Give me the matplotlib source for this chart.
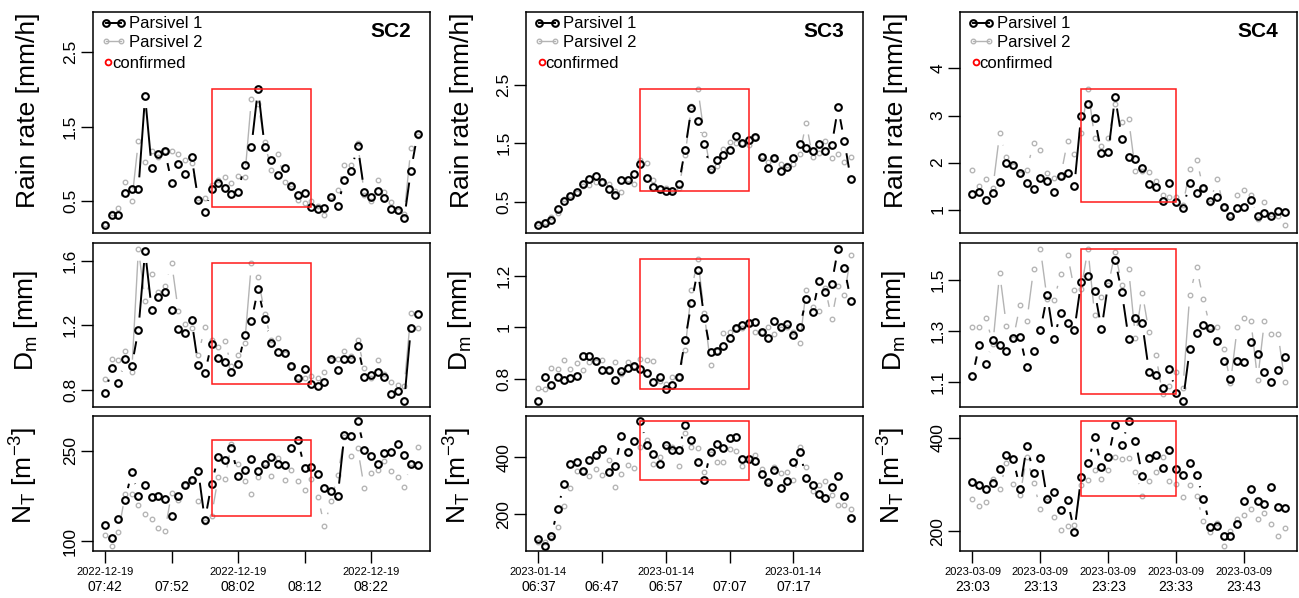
import numpy as np
import matplotlib
matplotlib.use("Agg")
import matplotlib.pyplot as plt
from matplotlib.collections import LineCollection
from matplotlib.patches import Rectangle
from matplotlib.lines import Line2D

plt.rcParams['font.family'] = ['Liberation Sans', 'DejaVu Sans']
plt.rcParams['mathtext.fontset'] = 'custom'
plt.rcParams['mathtext.rm'] = 'Liberation Sans'
plt.rcParams['mathtext.it'] = 'Liberation Sans:italic'
plt.rcParams['mathtext.bf'] = 'Liberation Sans:bold'

# ---- SC2, 2022-12-19 07:42 .. 08:29 (1 min) ----
sc2_rr_p1 = [0.18, 0.32, 0.32, 0.61, 0.67, 0.66, 1.91, 0.95, 1.14, 1.17, 0.75, 1.00, 0.87, 1.10, 0.52, 0.35,
             0.67, 0.75, 0.68, 0.60, 0.63, 0.99, 1.23, 2.01, 1.23, 1.05, 0.85, 0.95, 0.71, 0.58, 0.61, 0.42,
             0.39, 0.41, 0.56, 0.44, 0.79, 0.91, 1.24, 0.63, 0.56, 0.64, 0.55, 0.39, 0.38, 0.27, 0.91, 1.40]
sc2_rr_p2 = [0.20, 0.34, 0.41, 0.76, 0.50, 1.31, 1.03, 1.18, 1.09, 1.18, 1.17, 1.13, 1.05, 1.01, 0.54, 0.54,
             0.72, 0.78, 0.83, 0.74, 0.84, 0.82, 1.87, 1.81, 1.29, 0.92, 1.14, 0.76, 0.73, 0.52, 0.47, 0.51,
             0.43, 0.32, 0.57, 0.65, 0.99, 0.99, 1.28, 0.59, 0.50, 0.79, 0.63, 0.49, 0.37, 0.33, 1.21, 1.38]
sc2_dm_p1 = [0.778, 0.935, 0.843, 0.988, 0.947, 1.173, 1.659, 1.296, 1.373, 1.404, 1.292, 1.176, 1.151, 1.231,
             0.953, 0.902, 1.086, 0.996, 0.969, 0.912, 0.959, 1.139, 1.224, 1.424, 1.237, 1.092, 1.033, 1.027,
             0.945, 0.873, 0.929, 0.833, 0.824, 0.849, 0.988, 0.924, 0.988, 0.988, 1.073, 0.882, 0.890, 0.910,
             0.878, 0.771, 0.790, 0.731, 1.180, 1.269]
sc2_dm_p2 = [0.867, 0.990, 0.986, 1.037, 0.912, 1.673, 1.349, 1.514, 1.408, 1.441, 1.586, 1.288, 1.208, 1.180,
             1.018, 1.186, 1.106, 1.063, 1.102, 0.945, 1.018, 1.090, 1.582, 1.498, 1.271, 1.106, 1.120, 1.020,
             0.949, 0.878, 0.873, 0.886, 0.873, 0.910, 0.982, 0.988, 1.037, 1.008, 1.106, 0.933, 0.871, 0.982,
             0.898, 0.849, 0.829, 0.822, 1.273, 1.184]
sc2_nt_p1 = [128, 106, 137, 169, 215, 176, 193, 173, 176, 171, 142, 176, 193, 201, 217, 135, 195, 240, 235, 254,
             209, 219, 236, 217, 229, 240, 228, 226, 254, 268, 221, 224, 211, 189, 184, 176, 277, 274, 300, 252,
             241, 228, 247, 248, 262, 243, 229, 227]
sc2_nt_p2 = [111, 93, 115, 178, 178, 160, 145, 138, 122, 118, 181, 168, 193, 202, 167, 133, 142, 206, 203, 262,
             228, 200, 179, 207, 230, 209, 238, 202, 219, 200, 185, 203, 174, 126, 167, 210, 273, 242, 254, 188,
             214, 219, 234, 216, 207, 191, 230, 257]
sc2_dates = ["2022-12-19", "", "2022-12-19", "", "2022-12-19"]
sc2_times = ["07:42", "07:52", "08:02", "08:12", "08:22"]
sc2_confirmed = (16, 31)   # 07:58 .. 08:13

# ---- SC3, 2023-01-14 06:37 .. 07:26 ----
sc3_rr_p1 = [0.10, 0.14, 0.19, 0.37, 0.51, 0.59, 0.66, 0.81, 0.88, 0.94, 0.84, 0.71, 0.62, 0.87, 0.87, 0.97, 1.14,
             0.90, 0.75, 0.72, 0.68, 0.69, 0.80, 1.39, 2.10, 1.88, 1.48, 1.05, 1.22, 1.29, 1.38, 1.62, 1.50, 1.56,
             1.60, 1.26, 1.07, 1.25, 1.02, 1.10, 1.25, 1.49, 1.42, 1.37, 1.48, 1.37, 1.46, 2.11, 1.53, 0.88]
sc3_rr_p2 = [0.14, 0.16, 0.24, 0.31, 0.54, 0.61, 0.64, 0.77, 0.78, 0.83, 0.83, 0.81, 0.69, 0.67, 0.88, 0.81, 1.21,
             1.16, 0.87, 0.74, 0.74, 0.70, 0.74, 1.29, 2.14, 2.43, 1.65, 1.03, 1.11, 1.40, 1.52, 1.50, 1.50, 1.46,
             1.60, 1.28, 1.18, 1.25, 1.15, 1.13, 1.15, 1.32, 1.85, 1.26, 1.34, 1.54, 1.25, 1.31, 1.18, 1.27]
sc3_dm_p1 = [0.714, 0.805, 0.774, 0.808, 0.797, 0.801, 0.809, 0.890, 0.888, 0.868, 0.833, 0.835, 0.797, 0.829,
             0.842, 0.850, 0.837, 0.824, 0.787, 0.808, 0.762, 0.776, 0.808, 0.949, 1.095, 1.222, 1.036, 0.905,
             0.909, 0.926, 0.958, 0.996, 1.008, 1.015, 1.021, 0.981, 0.959, 1.023, 1.001, 1.012, 0.969, 0.999,
             1.110, 1.059, 1.178, 1.138, 1.169, 1.304, 1.229, 1.103]
sc3_dm_p2 = [0.765, 0.759, 0.841, 0.837, 0.872, 0.838, 0.862, 0.832, 0.863, 0.863, 0.873, 0.832, 0.865, 0.817,
             0.865, 0.850, 0.876, 0.873, 0.867, 0.791, 0.781, 0.805, 0.808, 0.912, 1.145, 1.263, 1.056, 0.854,
             0.908, 0.979, 0.981, 0.996, 0.997, 1.015, 0.983, 0.983, 0.999, 0.972, 0.992, 0.999, 0.981, 0.937,
             1.146, 1.078, 1.064, 1.150, 1.033, 1.160, 1.126, 1.278]
sc3_nt_p1 = [113, 89, 122, 217, 305, 375, 385, 351, 389, 407, 428, 349, 368, 474, 420, 458, 529, 445, 411, 377,
             445, 425, 425, 514, 460, 382, 322, 420, 448, 434, 469, 473, 394, 393, 387, 340, 314, 357, 292, 318,
             385, 418, 329, 301, 271, 257, 297, 333, 264, 188]
sc3_nt_p2 = [102, 101, 117, 155, 229, 293, 353, 351, 335, 359, 339, 389, 295, 340, 373, 362, 437, 460, 377, 401,
             437, 435, 371, 484, 437, 434, 349, 413, 382, 382, 428, 424, 369, 397, 408, 358, 315, 366, 346, 349,
             321, 438, 366, 282, 302, 317, 269, 232, 232, 218]
sc3_dates = ["2023-01-14", "", "2023-01-14", "", "2023-01-14"]
sc3_times = ["06:37", "06:47", "06:57", "07:07", "07:17"]
sc3_confirmed = (16, 33)   # 06:53 .. 07:10

# ---- SC4, 2023-03-09 23:03 .. 23:49 ----
sc4_rr_p1 = [1.34, 1.37, 1.20, 1.36, 1.59, 1.99, 1.95, 1.77, 1.56, 1.44, 1.68, 1.60, 1.37, 1.72, 1.77, 1.50, 3.00,
             3.25, 2.94, 2.20, 2.22, 3.40, 2.51, 2.11, 2.07, 1.89, 1.55, 1.47, 1.18, 1.56, 1.16, 1.03, 1.56, 1.36,
             1.46, 1.18, 1.27, 1.06, 0.86, 1.04, 1.06, 1.21, 0.86, 0.92, 0.87, 0.96, 0.94]
sc4_rr_p2 = [1.85, 1.51, 1.66, 1.46, 2.62, 2.12, 1.92, 1.75, 1.85, 2.41, 2.26, 1.78, 1.68, 1.72, 2.46, 2.19, 2.63,
             3.57, 2.52, 2.36, 2.53, 3.24, 2.86, 2.92, 1.81, 1.82, 1.79, 1.60, 1.30, 1.26, 1.27, 1.09, 1.86, 2.06,
             1.46, 1.13, 1.66, 1.06, 0.88, 1.30, 1.42, 1.30, 0.80, 1.16, 0.90, 0.87, 0.67]
sc4_dm_p1 = [1.121, 1.246, 1.172, 1.263, 1.245, 1.222, 1.273, 1.277, 1.157, 1.222, 1.303, 1.440, 1.270, 1.372,
             1.332, 1.303, 1.492, 1.516, 1.456, 1.307, 1.490, 1.579, 1.452, 1.270, 1.351, 1.330, 1.140, 1.126,
             1.075, 1.152, 1.056, 1.025, 1.229, 1.290, 1.325, 1.310, 1.261, 1.180, 1.113, 1.183, 1.179, 1.258,
             1.209, 1.139, 1.100, 1.145, 1.196]
sc4_dm_p2 = [1.317, 1.317, 1.351, 1.248, 1.528, 1.320, 1.268, 1.402, 1.338, 1.544, 1.623, 1.424, 1.421, 1.523,
             1.600, 1.462, 1.464, 1.623, 1.361, 1.435, 1.479, 1.610, 1.482, 1.543, 1.273, 1.451, 1.295, 1.207,
             1.051, 1.083, 1.139, 1.077, 1.443, 1.550, 1.425, 1.315, 1.315, 1.229, 1.096, 1.315, 1.352, 1.341,
             1.108, 1.340, 1.288, 1.288, 1.101]
sc4_nt_p1 = [306, 298, 290, 302, 333, 362, 354, 291, 382, 325, 356, 269, 283, 245, 266, 199, 315, 345, 401, 337,
             358, 426, 384, 436, 393, 318, 357, 362, 335, 374, 332, 321, 345, 321, 269, 210, 212, 189, 189, 216,
             265, 290, 265, 259, 294, 251, 249]
sc4_nt_p2 = [268, 254, 263, 311, 291, 345, 300, 278, 359, 303, 248, 273, 231, 202, 211, 214, 298, 310, 331, 311,
             331, 359, 354, 357, 327, 276, 308, 326, 358, 308, 300, 273, 298, 276, 221, 199, 217, 169, 200, 226,
             235, 248, 225, 239, 216, 189, 207]
sc4_dates = ["2023-03-09"] * 5
sc4_times = ["23:03", "23:13", "23:23", "23:33", "23:43"]
sc4_confirmed = (16, 30)   # 23:19 .. 23:33

labels = ["SC2", "SC3", "SC4"]
ylabels = ["Rain rate [mm/h]", r"D$_\mathrm{m}$ [mm]", r"N$_\mathrm{T}$ [m$^{-3}$]"]
yticks = [
    [([0.5, 1.5, 2.5], ["0.5", "1.5", "2.5"]), ([0.8, 1.2, 1.6], ["0.8", "1.2", "1.6"]), ([100, 250], ["100", "250"])],
    [([0.5, 1.5, 2.5], ["0.5", "1.5", "2.5"]), ([0.8, 1.0, 1.2], ["0.8", "1", "1.2"]), ([200, 400], ["200", "400"])],
    [([1, 2, 3, 4], ["1", "2", "3", "4"]), ([1.1, 1.3, 1.5], ["1.1", "1.3", "1.5"]), ([200, 400], ["200", "400"])],
]

data = [
    [(sc2_rr_p1, sc2_rr_p2), (sc2_dm_p1, sc2_dm_p2), (sc2_nt_p1, sc2_nt_p2)],
    [(sc3_rr_p1, sc3_rr_p2), (sc3_dm_p1, sc3_dm_p2), (sc3_nt_p1, sc3_nt_p2)],
    [(sc4_rr_p1, sc4_rr_p2), (sc4_dm_p1, sc4_dm_p2), (sc4_nt_p1, sc4_nt_p2)],
]
dates = [sc2_dates, sc3_dates, sc4_dates]
times = [sc2_times, sc3_times, sc4_times]
confirmed = [sc2_confirmed, sc3_confirmed, sc4_confirmed]

grey = '#b4b4b4'
GAP = 12.0  # px gap around points, like R type="b"

W, H = 1299, 598
fig = plt.figure(figsize=(W / 100, H / 100), dpi=100)
col_left = [92.7, 526.0, 960.0]
col_w = 337.3
rows_px = [(12.3, 233.3), (242.7, 407.0), (415.7, 550.7)]
ylab_y = [0.555, 0.53, 0.56]


def broken_line(ax, x, y, **kw):
    # segments shortened at both ends, dropped if too short
    pts = ax.transData.transform(np.column_stack([x, y]))
    inv = ax.transData.inverted()
    segs = []
    for p0, p1 in zip(pts[:-1], pts[1:]):
        d = p1 - p0
        L = np.hypot(d[0], d[1])
        if L > 2 * GAP:
            f = GAP / L
            segs.append(inv.transform(np.array([p0 + f * d, p1 - f * d])))
    ax.add_collection(LineCollection(segs, **kw))


for c in range(3):
    for r in range(3):
        top, bot = rows_px[r]
        ax = fig.add_axes([col_left[c] / W, 1 - bot / H, col_w / W, (bot - top) / H])
        p1 = np.array(data[c][r][0], dtype=float)
        p2 = np.array(data[c][r][1], dtype=float)
        n = len(p1)
        x = np.arange(n)

        lo = min(p1.min(), p2.min())
        hi = max(p1.max(), p2.max())
        if r == 0:
            hi = hi + 0.5 * (hi - lo)   # room for legend
        ax.set_ylim(lo - 0.04 * (hi - lo), hi + 0.04 * (hi - lo))
        ax.set_xlim(-0.04 * (n - 1), (n - 1) * 1.04)

        broken_line(ax, x, p2, colors=grey, linewidths=1.0, zorder=2)
        ax.plot(x, p2, 'o', ms=3.3, mfc='none', mec=grey, mew=0.95, zorder=3)
        broken_line(ax, x, p1, colors='black', linewidths=1.4, zorder=4)
        ax.plot(x, p1, 'o', ms=4.8, mfc='none', mec='black', mew=1.5, zorder=5)

        a, b = confirmed[c]
        win = np.concatenate([p1[a:b + 1], p2[a:b + 1]])
        ax.add_patch(Rectangle((a, win.min()), b - a, win.max() - win.min(),
                               fill=False, ec='#ff1a1a', lw=1.1, zorder=6))

        for s in ax.spines.values():
            s.set_linewidth(1.1)
        tk, tl = yticks[c][r]
        ax.set_yticks(tk)
        ax.set_yticklabels(tl, rotation=90, va='center', fontsize=12.5)
        ax.tick_params(axis='y', direction='out', length=8.5, width=1.0, pad=2)
        ax.set_ylabel(ylabels[r], fontsize=19)
        ax.yaxis.set_label_coords(-0.155, ylab_y[r])

        if r == 2:
            pos = np.arange(0, n, 10)[:len(times[c])]
            ax.set_xticks(pos)
            ax.set_xticklabels(dates[c], fontsize=8)
            ax.set_xticks(pos, minor=True)
            ax.set_xticklabels(times[c], minor=True, fontsize=12.5)
            ax.xaxis.remove_overlapping_locs = False
            ax.tick_params(axis='x', which='major', direction='out', length=8.5, width=1.0, pad=3)
            ax.tick_params(axis='x', which='minor', length=0, pad=21)
        else:
            ax.set_xticks([])

        if r == 0:
            h1 = Line2D([], [], color='black', lw=1.4, marker='o', ms=4.8, mfc='none', mew=1.5)
            h2 = Line2D([], [], color=grey, lw=1.0, marker='o', ms=3.3, mfc='none', mew=0.95)
            leg = ax.legend([h1, h2], ['Parsivel 1', 'Parsivel 2'], loc='center left',
                            bbox_to_anchor=(0.024, 0.905), frameon=False, fontsize=12,
                            numpoints=2, handlelength=1.54, handletextpad=0.18,
                            labelspacing=0.22, borderpad=0, borderaxespad=0)
            ax.add_artist(leg)
            h3 = Line2D([], [], ls='none', marker='o', ms=4.2, mfc='none', mec='red', mew=1.3)
            ax.legend([h3], ['confirmed'], loc='center left', bbox_to_anchor=(0.037, 0.769),
                      frameon=False, fontsize=12, handlelength=0.375, handletextpad=0.06,
                      borderpad=0, borderaxespad=0)
            ax.text(0.943, 0.911, labels[c], transform=ax.transAxes, ha='right', va='center',
                    fontsize=15, fontweight='bold')

fig.savefig('out.png', dpi=100)
